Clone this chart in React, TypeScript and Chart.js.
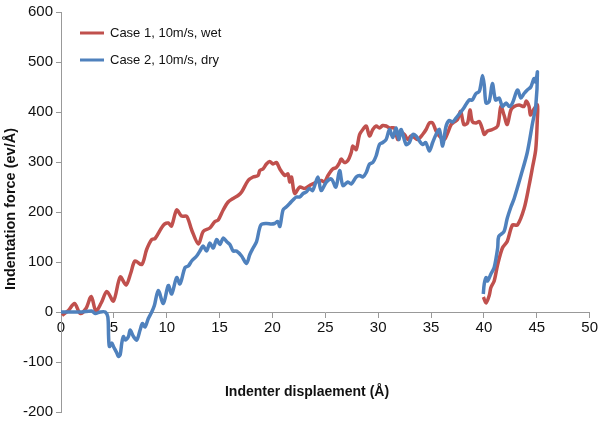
import React, { useEffect, useRef } from "react";
import { Chart, registerables } from "chart.js";

Chart.register(...registerables);

const wetX = [0.1, 0.7, 1.28, 1.82, 2.36, 2.86, 3.3, 3.8, 4.34, 4.96, 5.6, 6.16, 6.6, 7.0, 7.64, 8.1, 8.58, 8.9, 9.5, 9.8, 10.15, 10.45, 10.94, 11.4, 11.9, 12.36, 13.0, 13.45, 14.08, 14.56, 14.87, 15.34, 15.81, 16.28, 16.75, 17.08, 17.7, 18.17, 18.64, 18.8, 19.1, 19.43, 19.74, 20.06, 20.38, 20.7, 21.17, 21.47, 21.63, 21.8, 22.1, 22.58, 23.05, 23.52, 24.15, 24.62, 24.93, 25.25, 25.7, 26.04, 26.35, 26.5, 26.8, 27.13, 27.45, 27.6, 27.92, 28.24, 28.55, 28.87, 29.18, 29.49, 29.81, 30.12, 30.43, 30.75, 31.07, 31.54, 31.85, 32.17, 32.48, 32.8, 33.1, 33.42, 33.74, 34.2, 34.53, 34.84, 35.15, 35.47, 35.78, 36.25, 36.57, 36.9, 37.2, 37.5, 37.8, 38.1, 38.45, 38.68, 38.9, 39.25, 39.56, 39.87, 40.03, 40.34, 40.8, 41.3, 41.6, 41.9, 42.2, 42.55, 42.86, 43.33, 43.8, 44.0, 44.27, 44.4, 44.7, 45.06, 45.05, 44.9, 44.6, 44.27, 43.8, 43.17, 42.7, 42.2, 41.75, 41.3, 40.97, 40.66, 40.5, 40.2, 39.95];
const wetY = [-7, 3, 17, -3, 7, 31, 2, 18, 41, 22, 70, 54, 78, 102, 95, 125, 145, 147, 168, 176, 178, 172, 204, 192, 191, 164, 136, 161, 168, 181, 184, 204, 220, 227, 233, 240, 263, 270, 273, 283, 286, 296, 301, 296, 299, 286, 273, 276, 260, 270, 237, 250, 247, 253, 260, 263, 260, 273, 286, 289, 299, 306, 299, 303, 319, 332, 325, 355, 365, 372, 352, 365, 372, 368, 373, 372, 368, 368, 345, 358, 355, 345, 352, 349, 345, 355, 365, 378, 378, 362, 352, 345, 358, 375, 380, 385, 401, 375, 378, 404, 381, 378, 381, 365, 355, 362, 365, 372, 411, 394, 375, 404, 411, 414, 411, 422, 411, 394, 405, 414, 385, 325, 290, 253, 207, 174, 174, 141, 128, 95, 62, 49, 33, 18, 30];

const dryX = [0, 1.0, 2.0, 2.9, 3.24, 3.7, 4.18, 4.43, 4.5, 4.58, 4.8, 4.96, 5.28, 5.43, 5.6, 5.75, 5.9, 6.07, 6.38, 6.54, 6.85, 7.17, 7.48, 7.7, 7.95, 8.26, 8.58, 8.83, 9.2, 9.68, 10.15, 10.47, 10.94, 11.25, 11.73, 12.04, 12.36, 12.83, 13.14, 13.45, 13.77, 14.08, 14.4, 14.72, 15.03, 15.34, 15.66, 15.97, 16.28, 16.6, 17.08, 17.55, 17.86, 18.17, 18.5, 18.9, 19.43, 19.9, 20.2, 20.5, 20.7, 21.0, 21.3, 21.63, 21.94, 22.26, 22.58, 22.9, 23.2, 23.5, 23.8, 24.3, 24.6, 25.1, 25.57, 26.0, 26.35, 26.66, 27.13, 27.45, 27.92, 28.24, 28.55, 28.87, 29.18, 29.49, 29.8, 30.12, 30.43, 30.75, 31.07, 31.38, 31.7, 31.95, 32.17, 32.64, 32.95, 33.27, 33.58, 33.9, 34.2, 34.5, 34.84, 35.15, 35.47, 35.78, 36.1, 36.4, 36.7, 37.05, 37.36, 37.67, 38.1, 38.6, 38.9, 39.25, 39.56, 39.7, 39.87, 40.03, 40.2, 40.5, 40.8, 41.1, 41.44, 41.75, 42.1, 42.4, 42.7, 43.17, 43.5, 43.8, 44.1, 44.43, 44.74, 44.9, 45.06, 44.9, 44.6, 44.1, 43.5, 42.86, 42.55, 42.2, 41.9, 41.4, 41.3, 40.97, 40.66, 40.34, 40.2, 40.03, 39.94];
const dryY = [0, 0, 0, 2, -3, 0, 0, -10, -49, -69, -62, -69, -82, -89, -85, -62, -49, -56, -49, -36, -49, -56, -36, -23, -30, -13, 0, 13, 43, 17, 53, 36, 69, 56, 89, 92, 102, 112, 122, 132, 122, 138, 128, 145, 135, 148, 141, 135, 122, 122, 112, 97, 115, 128, 141, 174, 177, 176, 177, 181, 171, 204, 210, 217, 224, 230, 230, 237, 240, 247, 243, 270, 243, 260, 266, 250, 283, 253, 260, 256, 270, 273, 270, 279, 296, 299, 312, 335, 339, 345, 365, 349, 368, 345, 365, 335, 339, 355, 352, 342, 335, 339, 322, 339, 355, 365, 332, 370, 383, 380, 388, 396, 408, 424, 424, 437, 441, 454, 473, 454, 418, 421, 457, 424, 428, 411, 418, 411, 418, 444, 428, 437, 444, 450, 467, 460, 480, 411, 378, 319, 273, 227, 210, 187, 161, 151, 128, 89, 76, 62, 69, 56, 36];

const seriesNames = ["Case 1, 10m/s, wet", "Case 2, 10m/s, dry"];
const seriesColors = ["#C0504D", "#4F81BD"];
const xTitle = "Indenter displaement (Å)";
const yTitle = "Indentation force (ev/Å)";

const FONT = '"Liberation Sans", Arial, Helvetica, sans-serif';

function toPoints(xs: number[], ys: number[]) {
  return xs.map((x, i) => ({ x, y: ys[i] }));
}

const decorPlugin = {
  id: "decor",
  afterDraw(chart: any) {
    const ctx = chart.ctx as CanvasRenderingContext2D;
    ctx.save();
    ctx.fillStyle = "#111";
    ctx.font = `bold 14px ${FONT}`;
    ctx.textAlign = "center";
    ctx.textBaseline = "middle";
    ctx.fillText(xTitle, 307, 392);
    ctx.save();
    ctx.translate(11, 209);
    ctx.rotate(-Math.PI / 2);
    ctx.font = `bold 14.5px ${FONT}`;
    ctx.fillText(yTitle, 0, 0);
    ctx.restore();
    const ys = [33, 60];
    ctx.font = `13px ${FONT}`;
    ctx.textAlign = "left";
    for (let i = 0; i < 2; i++) {
      ctx.strokeStyle = seriesColors[i];
      ctx.lineWidth = 3;
      ctx.beginPath();
      ctx.moveTo(80, ys[i]);
      ctx.lineTo(104, ys[i]);
      ctx.stroke();
      ctx.fillStyle = "#111";
      ctx.fillText(seriesNames[i], 110, ys[i] + 0.5);
    }
    ctx.restore();
  },
};

export default function App() {
  const ref = useRef<HTMLCanvasElement | null>(null);
  useEffect(() => {
    if (!ref.current) return;
    const chart = new Chart(ref.current, {
      type: "scatter",
      data: {
        datasets: [
          {
            label: seriesNames[0],
            data: toPoints(wetX, wetY),
            borderColor: seriesColors[0],
            backgroundColor: seriesColors[0],
            showLine: true,
            borderWidth: 3.5,
            pointRadius: 0,
            tension: 0.3,
            order: 1,
          },
          {
            label: seriesNames[1],
            data: toPoints(dryX, dryY),
            borderColor: seriesColors[1],
            backgroundColor: seriesColors[1],
            showLine: true,
            borderWidth: 3.5,
            pointRadius: 0,
            tension: 0.3,
            order: 0,
          },
        ],
      },
      options: {
        responsive: false,
        animation: false,
        layout: { padding: { left: 0, top: 7, right: 9, bottom: 20 } },
        plugins: { legend: { display: false }, tooltip: { enabled: false } },
        scales: {
          x: {
            type: "linear",
            min: 0,
            max: 50,
            position: { y: 0 } as any,
            ticks: { stepSize: 5, font: { size: 15, family: FONT }, color: "#111", padding: 2, maxRotation: 0 },
            grid: { drawOnChartArea: false, drawTicks: true, tickLength: 5, color: "#999" },
            border: { color: "#999", width: 1 },
          },
          y: {
            type: "linear",
            min: -200,
            max: 600,
            ticks: { stepSize: 100, font: { size: 15, family: FONT }, color: "#111", padding: 3 },
            grid: { drawOnChartArea: false, drawTicks: true, tickLength: 5, color: "#999" },
            border: { color: "#999", width: 1 },
            afterFit(s: any) {
              s.width = 61;
            },
          },
        },
      },
      plugins: [decorPlugin],
    });
    return () => chart.destroy();
  }, []);
  return (
    <div style={{ position: "absolute", left: 0, top: 0, width: 600, height: 432, background: "#fff" }}>
      <canvas ref={ref} width={600} height={432} />
    </div>
  );
}
